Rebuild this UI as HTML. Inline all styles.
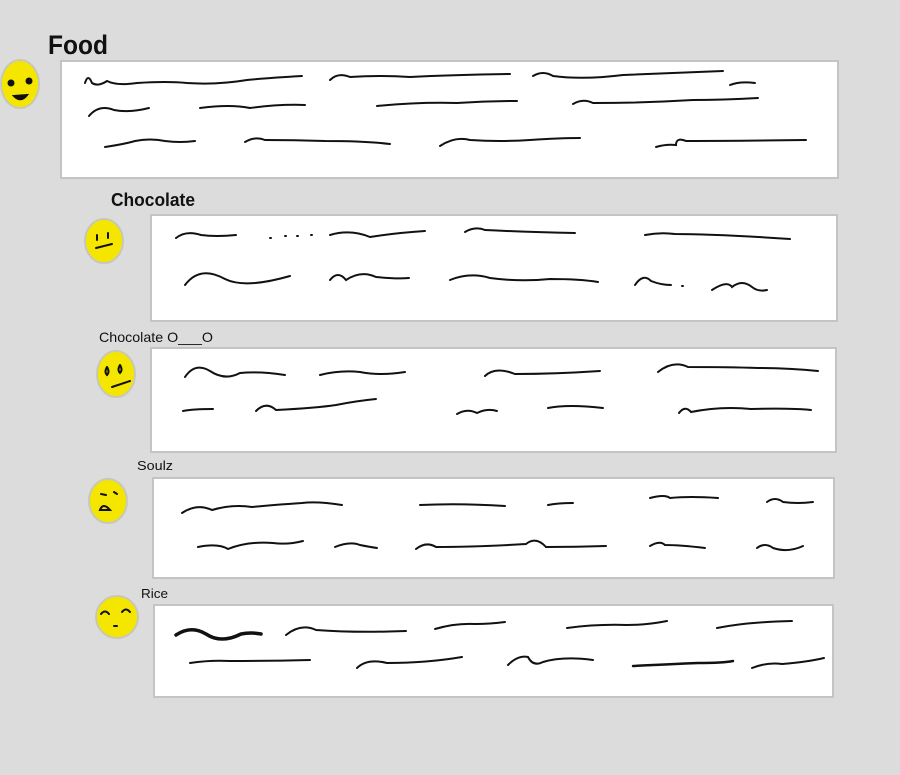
<!DOCTYPE html>
<html><head><meta charset="utf-8"><style>
html,body{margin:0;padding:0;background:#dcdcdc;width:900px;height:775px;overflow:hidden}
</style></head><body>
<svg width="900" height="775" xmlns="http://www.w3.org/2000/svg" style="position:absolute;left:0;top:0">
<rect width="900" height="775" fill="#dcdcdc"/>
<g fill="#fff" stroke="#c4c4c4" stroke-width="2">
<rect x="61" y="61" width="777" height="117"/>
<rect x="151" y="215" width="686" height="106"/>
<rect x="151" y="348" width="685" height="104"/>
<rect x="153" y="478" width="681" height="100"/>
<rect x="154" y="605" width="679" height="92"/>
</g>
<g font-family="Liberation Sans, sans-serif" fill="#111">
<text x="48" y="54" font-size="27" font-weight="bold" textLength="60" lengthAdjust="spacingAndGlyphs">Food</text>
<text x="111" y="206" font-size="18" font-weight="bold" textLength="84" lengthAdjust="spacingAndGlyphs">Chocolate</text>
<text x="99" y="342" font-size="14" textLength="114" lengthAdjust="spacingAndGlyphs">Chocolate O___O</text>
<text x="137" y="470" font-size="13" textLength="36" lengthAdjust="spacingAndGlyphs">Soulz</text>
<text x="141" y="598" font-size="13" textLength="27" lengthAdjust="spacingAndGlyphs">Rice</text>
</g>
<g fill="#f5e600" stroke="#c8c8b8" stroke-width="2">
<ellipse cx="20" cy="84" rx="19" ry="24"/>
<ellipse cx="104" cy="241" rx="19" ry="22"/>
<ellipse cx="116" cy="374" rx="19" ry="23"/>
<ellipse cx="108" cy="501" rx="19" ry="22"/>
<ellipse cx="117" cy="617" rx="21" ry="21"/>
</g>
<g fill="none" stroke="#111" stroke-width="2" stroke-linecap="round">
<circle cx="11" cy="83" r="2.5" fill="#111"/><circle cx="29" cy="81" r="2.5" fill="#111"/>
<path d="M14 96 Q21 103 27 95 Z" fill="#111"/>
<path d="M97 235 l0 5 M108 233 l0 5 M96 248 L112 244"/>
<path d="M107 367 q-3 5 0 8 q3-3 0-8 M120 365 q-3 5 0 8 q3-3 0-8 M112 387 L130 381"/>
<path d="M101 494 l5 1 M114 492 l3 2 M100 510 q3-8 10 0 z"/>
<path d="M101 614 q4-5 8 0 M122 612 q4-5 8 0 M114 626 l3 0"/>
</g>
<g fill="none" stroke="#111" stroke-width="2" stroke-linecap="round">
<path d="M85 83 q3-10 7 0 q6 4 15-2 q10 5 30 2 q30 -2 50 0 q30 2 60 -3 q20 -2 55 -4"/>
<path d="M330 80 q8-8 20 -3 q30 -2 60 0 q40 -2 100 -3"/>
<path d="M533 76 q10-6 20 0 q30 4 70 -1 q50 -2 100 -4"/>
<path d="M730 85 q10-4 25 -2"/>
<path d="M89 116 q10-12 25 -6 q15 3 35 -2"/>
<path d="M200 108 q30 -4 50 0 q30 -4 55 -3"/>
<path d="M377 106 q40 -4 80 -3 q30 -2 60 -2"/>
<path d="M573 104 q10-6 20 -1 q50 0 100 -3 q30 0 65 -2"/>
<path d="M105 147 q20 -3 30 -6 q15 -3 30 0 q15 2 30 0"/>
<path d="M245 142 q10 -6 20 -2 q30 0 60 1 q40 0 65 3"/>
<path d="M440 146 q15 -10 30 -6 q30 2 60 0 q30 -2 50 -2"/>
<path d="M656 147 q10 -3 20 -2 q0 -8 10 -4 q50 0 120 -1"/>
<path d="M176 238 q10 -8 25 -3 q15 2 35 0 M270 238 l1 0 M285 236 l1 0 M297 236 l1 0 M311 235 l1 0"/>
<path d="M330 235 q20 -6 40 2 q25 -4 55 -6"/>
<path d="M465 232 q10 -6 20 -2 q40 2 90 3"/>
<path d="M645 235 q15 -3 30 -1 q40 0 115 5"/>
<path d="M185 285 q15 -20 40 -6 q20 10 65 -3"/>
<path d="M330 280 q8 -10 16 0 q15 -10 30 -3 q20 2 33 1"/>
<path d="M450 280 q20 -8 40 -2 q30 4 60 1 q30 0 48 3"/>
<path d="M635 285 q8 -12 16 -4 q10 4 20 4 M682 286 l1 0"/>
<path d="M712 290 q15 -10 20 -3 q10 -8 20 0 q6 5 15 3"/>
<path d="M185 377 q10 -15 25 -6 q15 10 30 2 q20 -2 45 2"/>
<path d="M320 375 q20 -5 40 -3 q20 4 45 0"/>
<path d="M485 376 q10 -10 30 -2 q40 0 85 -3"/>
<path d="M658 372 q15 -12 30 -5 q40 0 70 1 q30 0 60 3"/>
<path d="M183 411 q10 -2 30 -2"/>
<path d="M256 411 q10 -10 20 -1 q40 -2 60 -5 q20 -4 40 -6"/>
<path d="M457 414 q10 -6 20 -1 q10 -5 20 -2"/>
<path d="M548 408 q20 -4 55 0"/>
<path d="M679 413 q6 -8 12 -1 q30 -6 60 -3 q40 -1 60 1"/>
<path d="M182 513 q15 -10 30 -3 q20 -6 40 -3 q20 -2 50 -4 q15 -2 40 2"/>
<path d="M420 505 q40 -2 85 1"/>
<path d="M548 505 q10 -2 25 -2"/>
<path d="M650 498 q15 -4 20 0 q20 -2 48 0"/>
<path d="M767 502 q8 -6 16 0 q15 2 30 0"/>
<path d="M198 547 q20 -4 30 2 q20 -8 45 -6 q15 2 30 -2"/>
<path d="M335 547 q15 -6 25 -2 q10 2 17 3"/>
<path d="M416 549 q10 -8 20 -2 q40 0 90 -3 q10 -8 20 3 q30 0 60 -1"/>
<path d="M650 546 q10 -6 15 -1 q15 0 40 3"/>
<path d="M757 548 q8 -6 16 0 q15 5 30 -2"/>
</g>
<g fill="none" stroke="#111" stroke-width="2" stroke-linecap="round">
<path d="M176 635 q15 -10 30 -1 q15 10 35 0 q10 -2 20 0" stroke-width="3.5"/>
<path d="M286 635 q15 -12 30 -5 q40 3 90 1"/>
<path d="M435 629 q20 -6 40 -5 q15 0 30 -2"/>
<path d="M567 628 q30 -4 60 -3 q20 0 40 -4"/>
<path d="M717 628 q30 -6 75 -7"/>
<path d="M190 663 q20 -3 40 -2 q40 0 80 -1"/>
<path d="M357 668 q10 -10 30 -5 q40 0 75 -6"/>
<path d="M508 665 q10 -10 20 -8 q5 10 15 5 q20 -6 50 -2"/>
<path d="M633 666 q40 -2 65 -3 q25 0 35 -2" stroke-width="2.5"/>
<path d="M752 668 q15 -6 30 -4 q25 -2 42 -6"/>
</g>
</svg>
</body></html>
